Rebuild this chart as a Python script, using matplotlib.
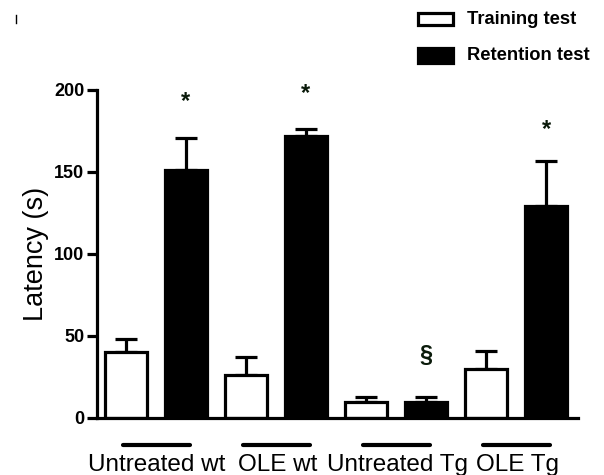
import matplotlib
matplotlib.use("Agg")
import matplotlib.pyplot as plt
from matplotlib.lines import Line2D
from matplotlib.patches import Rectangle
import numpy as np

groups = ["Untreated wt", "OLE wt", "Untreated Tg", "OLE Tg"]
training = [40, 26, 10, 30]
training_err = [8, 11, 3, 11]
retention = [151, 172, 10, 129]
retention_err = [20, 4, 3, 28]
marks = ["*", "*", "§", "*"]
mark_y = [193, 198, 38, 176]
y_ticks = [0, 50, 100, 150, 200]

W, H = 604, 475
fig = plt.figure(figsize=(W / 100, H / 100), dpi=100)

regular = ["Liberation Sans", "DejaVu Sans"]

left, right, bottom, top = 97, 578, 418, 90
ax = fig.add_axes([left / W, 1 - bottom / H, (right - left) / W, (bottom - top) / H])

n = len(groups)
x_train = np.arange(n) * 2
x_ret = x_train + 1
width = 0.7
lw = 2.3

ax.bar(x_train, training, width, facecolor="white", edgecolor="black", linewidth=lw, zorder=2)
ax.bar(x_ret, retention, width, facecolor="black", edgecolor="black", linewidth=lw, zorder=2)

for xs, vals, errs in [(x_train, training, training_err), (x_ret, retention, retention_err)]:
    ax.errorbar(xs, vals, yerr=[np.zeros(n), errs], fmt="none", ecolor="black",
                elinewidth=lw, capsize=8, capthick=lw, zorder=1)

for xr, m, my in zip(x_ret, marks, mark_y):
    ax.text(xr, my, m, ha="center", va="center", fontsize=17,
            fontweight="bold", color="#0a1a0a", family=regular)

ax.set_xlim(-0.483, 7.533)
ax.set_ylim(0, 200)
ax.set_yticks(y_ticks)
ax.set_yticklabels([str(t) for t in y_ticks], fontsize=13, fontweight="bold", family=regular)
ax.set_xticks([])
ax.set_ylabel("Latency (s)", fontsize=19.5, family=regular, labelpad=4)

for s in ["top", "right"]:
    ax.spines[s].set_visible(False)
for s in ["left", "bottom"]:
    ax.spines[s].set_linewidth(lw)
ax.tick_params(axis="y", length=7, width=lw, pad=2)

# group underlines and labels
trans = ax.get_xaxis_transform()
for xt, xr, g in zip(x_train, x_ret, groups):
    ax.add_line(Line2D([xt - 0.05, xr + 0.07], [-(445 - bottom) / (bottom - top)] * 2,
                       transform=trans, color="black", linewidth=3, clip_on=False,
                       solid_capstyle="round"))
    ax.text((xt + xr) / 2 + 0.02, -(454 - bottom) / (bottom - top), g, transform=trans,
            ha="center", va="top", fontsize=17.5, family=regular, clip_on=False)

# legend
def legend_entry(y0, y1, face, label):
    fig.add_artist(Rectangle((418 / W, 1 - y1 / H), (453 - 418) / W, (y1 - y0) / H,
                             facecolor=face, edgecolor="black", linewidth=2.3,
                             transform=fig.transFigure))
    fig.text(467 / W, 1 - (y0 + y1) / 2 / H, label, ha="left", va="center",
             fontsize=13.2, fontweight="bold", family=regular)

legend_entry(13, 25, "white", "Training test")
legend_entry(48, 63, "black", "Retention test")

fig.add_artist(Line2D([16 / W, 16 / W], [1 - 15 / H, 1 - 23 / H], color="black",
                      linewidth=1, transform=fig.transFigure))

fig.savefig("out.png", dpi=100)
